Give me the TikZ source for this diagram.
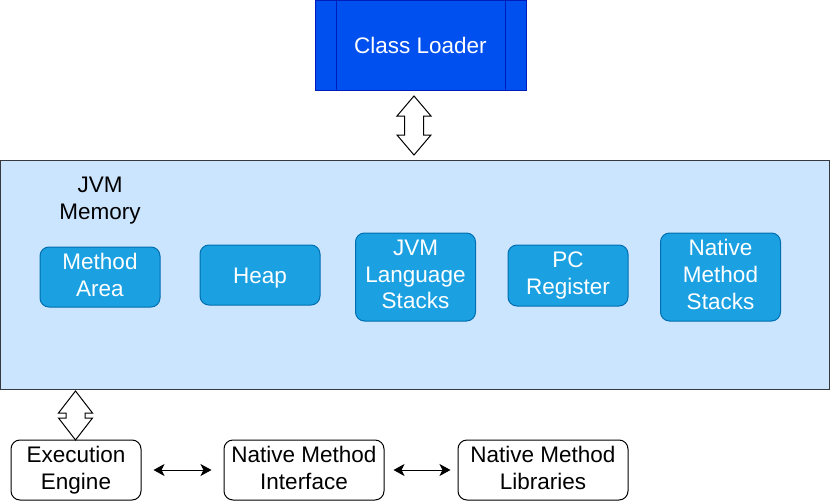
\documentclass[tikz,border=0pt]{standalone}
\usepackage{fontspec}
\setmainfont{Liberation Sans}
\usetikzlibrary{arrows.meta}

\definecolor{loaderfill}{HTML}{0050EF}
\definecolor{loaderline}{HTML}{001DBC}
\definecolor{memfill}{HTML}{CCE5FF}
\definecolor{memline}{HTML}{36393D}
\definecolor{partfill}{HTML}{1BA1E2}
\definecolor{partline}{HTML}{006EAF}

\newcommand\topstrut{\rule{0pt}{21.6pt}}
\newcommand\botstrut{\rule[-5pt]{0pt}{5pt}}

\tikzset{
	every node/.style={font=\fontsize{22.5}{26.7}\selectfont,align=center,inner sep=0pt,
		execute at begin node=\topstrut,execute at end node=\botstrut},
	part/.style={draw=partline,fill=partfill,text=white,rounded corners=9pt,minimum width=120pt},
	unit/.style={draw=black,fill=white,rounded corners=9pt,minimum height=60pt},
	link/.style={{Stealth[length=11pt,width=12pt,inset=3pt]}-{Stealth[length=11pt,width=12pt,inset=3pt]},line width=1pt},
	fat/.style={draw=black,fill=white,line width=1pt,line join=miter}
}

\begin{document}
\begin{tikzpicture}[x=1pt,y=-1pt,line width=1pt]
		\useasboundingbox (0,0) rectangle (831,501);
		% class loader
		\node[draw=loaderline,fill=loaderfill,text=white,minimum width=211pt,minimum height=90pt] (loader) at (420.5,45) {Class Loader};
		\draw[loaderline] (336,0) -- (336,90) (505,0) -- (505,90);
		% memory area
		\node[draw=memline,fill=memfill,minimum width=829pt,minimum height=229pt] (memory) at (415,274.5) {};
		\node (memlabel) at (100,201) {JVM\\Memory};
		\node[part,minimum height=60pt] (method) at (100,277) {Method\\Area};
		\node[part,minimum height=60pt] (heap) at (260,275) {Heap};
		\node[part,minimum height=88pt] (langstack) at (415.5,277) {JVM\\Language\\Stacks};
		\node[part,minimum height=61pt] (pcreg) at (568,275.5) {PC\\Register};
		\node[part,minimum height=88pt] (natstack) at (720.5,277) {Native\\Method\\Stacks};
		% bottom row
		\node[unit,minimum width=130pt] (engine) at (76,470) {Execution\\Engine};
		\node[unit,minimum width=160pt] (nmi) at (304,470) {Native Method\\Interface};
		\node[unit,minimum width=170pt] (nml) at (543,470) {Native Method\\Libraries};
		\draw[link] ([xshift=12pt]engine.east) -- ([xshift=-12pt]nmi.west);
		\draw[link] ([xshift=9pt]nmi.east) -- ([xshift=-7pt]nml.west);
		% fat arrows
		\draw[fat] (414,96) -- (431,116) -- (423.5,116) -- (423.5,135) -- (431,135) -- (414,155)
			-- (397,135) -- (404.5,135) -- (404.5,116) -- (397,116) -- cycle;
		\draw[fat] (75.5,391) -- (92.5,413) -- (85,413) -- (85,418) -- (92.5,418) -- (75.5,440)
			-- (58.5,418) -- (66,418) -- (66,413) -- (58.5,413) -- cycle;
	\end{tikzpicture}
\end{document}
